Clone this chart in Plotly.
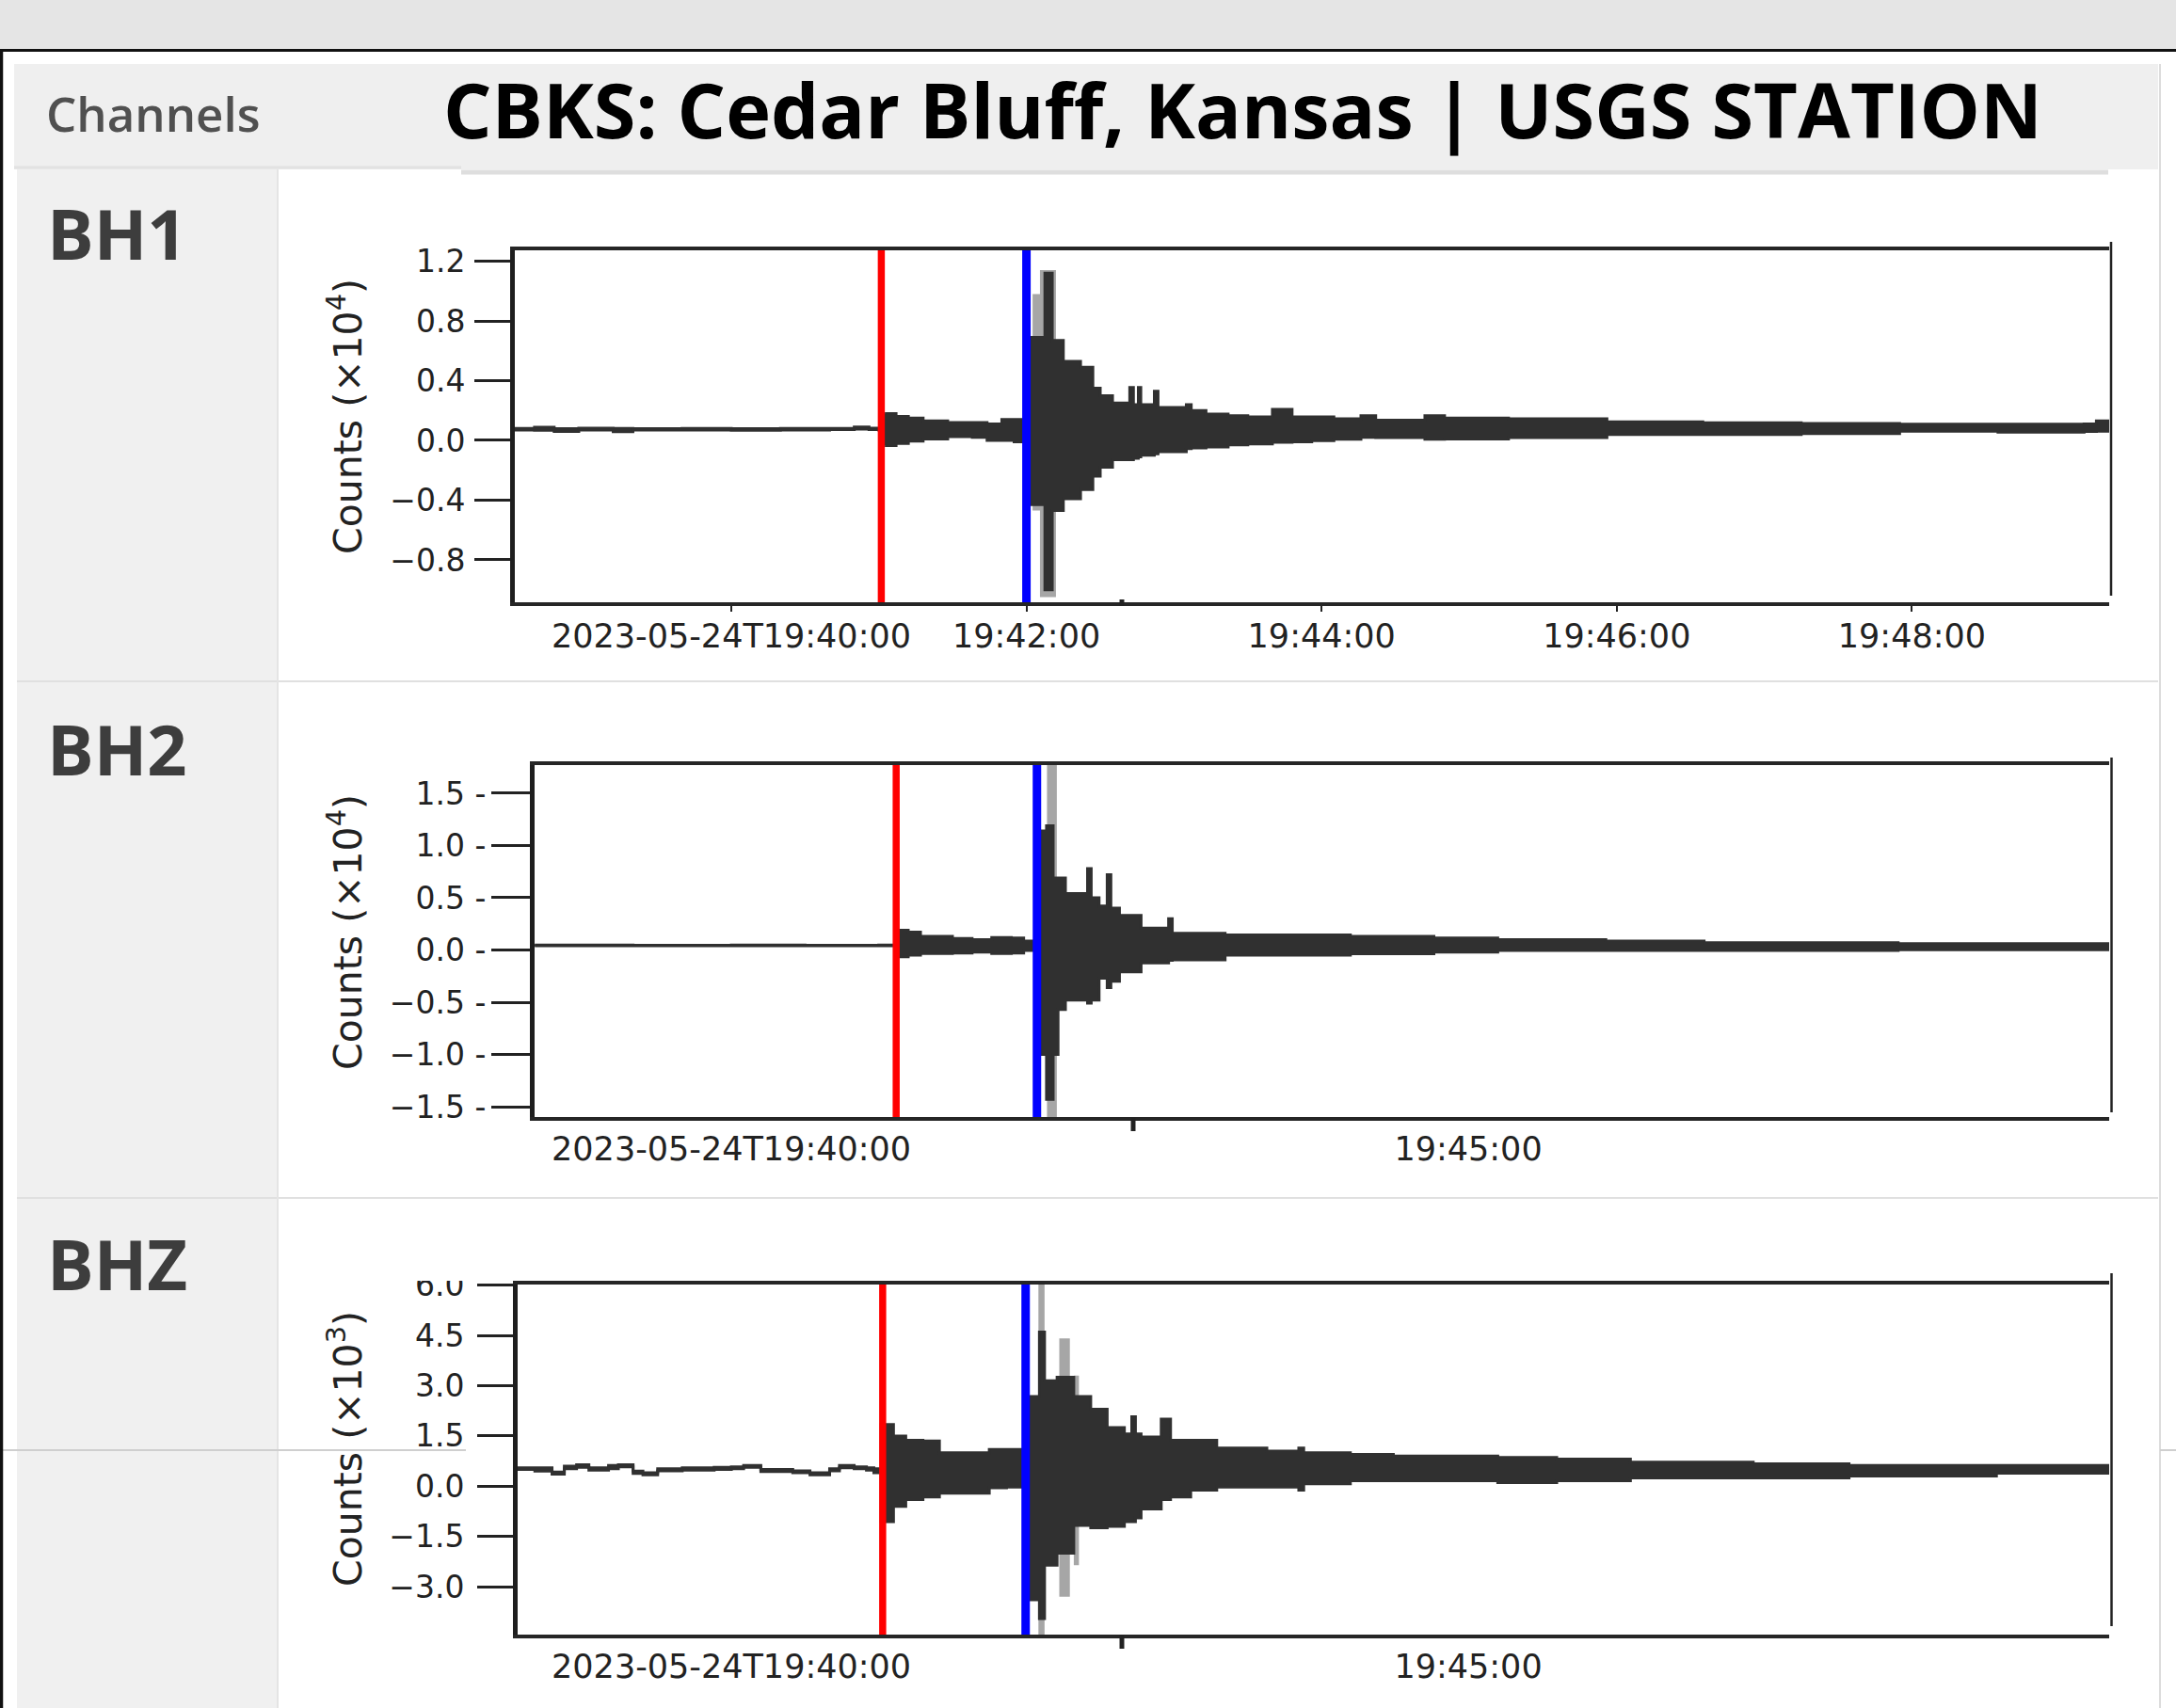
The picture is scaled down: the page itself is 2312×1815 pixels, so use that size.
import plotly.graph_objects as go
import pandas as pd

W, H = 2312, 1815
BASE = pd.Timestamp("2023-05-24 19:40:00")

# ---------------- data (seconds after 19:40:00, counts in axis units) -------------
CHANNELS = ["BH1", "BH2", "BHZ"]
UNITS = ["Counts (×10<sup>4</sup>)", "Counts (×10<sup>4</sup>)", "Counts (×10<sup>3</sup>)"]

# arrival markers (red = P, blue = S) per channel
RED_T = [61.0, 67.1, 61.6]
BLUE_T = [120.0, 124.4, 119.8]

# BH1 waveform envelope (x10^4 counts)
BH1_T = [-88, -80, -72, -62, -48, -40, -20, 0, 20, 40, 50, 56, 60, 61, 63, 67, 72, 78, 88, 98, 104, 110,
         115, 119, 120, 127.5, 130.5, 135, 142, 147, 150, 155, 162, 163.5, 165.5, 166.5, 172, 173.5, 185,
         187, 193, 202, 210, 220, 228, 236, 245, 256, 262, 282, 290, 316, 356, 395, 435, 475, 515, 550,
         555, 560.2]
BH1_UP = [0.080, 0.088, 0.078, 0.082, 0.080, 0.078, 0.080, 0.078, 0.080, 0.080, 0.090, 0.082, 0.078,
          0.170, 0.180, 0.160, 0.150, 0.130, 0.120, 0.120, 0.110, 0.140, 0.140, 0.140, 0.690, 1.120,
          0.670, 0.530, 0.490, 0.350, 0.300, 0.250, 0.355, 0.240, 0.355, 0.240, 0.330, 0.220, 0.240,
          0.200, 0.176, 0.165, 0.157, 0.208, 0.157, 0.157, 0.145, 0.165, 0.135, 0.166, 0.150, 0.145,
          0.124, 0.118, 0.113, 0.109, 0.109, 0.110, 0.130, 0.110]
BH1_LO = [0.070, 0.068, 0.060, 0.070, 0.058, 0.070, 0.070, 0.068, 0.070, 0.072, 0.076, 0.072, 0.070,
          -0.020, -0.035, -0.020, -0.005, 0.010, 0.025, 0.020, 0.000, 0.000, -0.010, -0.010, -0.430,
          -1.000, -0.470, -0.390, -0.330, -0.240, -0.180, -0.130, -0.130, -0.120, -0.110, -0.100,
          -0.090, -0.076, -0.055, -0.050, -0.044, -0.030, -0.023, -0.013, -0.010, -0.002, 0.008, 0.020,
          0.019, 0.008, 0.010, 0.019, 0.040, 0.040, 0.046, 0.061, 0.055, 0.060, 0.062, 0.062]
BH1_LIGHT_T = [122.5, 125.5, 132]
BH1_LIGHT_UP = [0.98, 1.14, 1.14]
BH1_LIGHT_LO = [-0.47, -1.05, -1.05]

# BH2 waveform envelope (x10^4 counts)
BH2_T = [-80, -40, 0, 30, 60, 66, 67, 72, 77, 90, 98, 106, 114, 119, 124.5, 128.3, 131, 133, 136, 145,
         146.5, 149.7, 153, 154.5, 158, 166.8, 178, 179.5, 201, 218, 252, 286, 312, 356, 396, 475, 560.9]
BH2_UP = [0.048, 0.046, 0.048, 0.046, 0.048, 0.046, 0.190, 0.170, 0.130, 0.110, 0.100, 0.120, 0.115,
          0.086, 1.140, 1.190, 0.690, 0.690, 0.540, 0.780, 0.500, 0.420, 0.720, 0.400, 0.330, 0.210,
          0.300, 0.160, 0.145, 0.145, 0.130, 0.115, 0.100, 0.086, 0.070, 0.060, 0.060]
BH2_LO = [0.040, 0.040, 0.040, 0.040, 0.040, 0.040, -0.065, -0.050, -0.034, -0.030, -0.020, -0.034,
          -0.030, -0.004, -1.000, -1.430, -1.000, -0.570, -0.480, -0.510, -0.480, -0.270, -0.360,
          -0.300, -0.210, -0.125, -0.100, -0.095, -0.050, -0.050, -0.035, -0.020, -0.005, -0.005,
          -0.005, 0.002, 0.002]
BH2_LIGHT_T = [128.5, 132.5]
BH2_LIGHT_UP = [1.77, 1.77]
BH2_LIGHT_LO = [-1.60, -1.60]

# BHZ waveform envelope (x10^3 counts)
BHZ_T = [-87, -80, -73, -68, -63, -58, -50, -46, -40, -36, -30, -20, -7, 0, 5, 12, 25, 32, 40, 44, 50,
         55, 58, 61, 66, 71, 78, 84.7, 98, 105, 112, 119, 120, 125.4, 127.5, 132.6, 139.4, 146.3, 153,
         160, 163, 164.5, 166.8, 175, 178.8, 187, 197.6, 218, 231, 233, 252, 269.5, 312, 336, 366, 416,
         455, 515, 560.9]
BHZ_UP = [0.55, 0.55, 0.42, 0.60, 0.64, 0.55, 0.62, 0.64, 0.45, 0.40, 0.52, 0.55, 0.56, 0.58, 0.62,
          0.50, 0.46, 0.40, 0.52, 0.62, 0.58, 0.55, 0.52, 1.84, 1.50, 1.37, 1.35, 1.00, 1.00, 1.10, 1.10,
          1.10, 2.68, 4.60, 3.15, 3.25, 2.68, 2.30, 1.75, 1.56, 2.07, 1.56, 1.47, 2.00, 1.37, 1.37, 1.14,
          1.05, 1.14, 1.00, 0.95, 0.90, 0.86, 0.81, 0.72, 0.67, 0.62, 0.62, 0.62]
BHZ_LO = [0.50, 0.45, 0.36, 0.52, 0.56, 0.48, 0.52, 0.58, 0.38, 0.34, 0.46, 0.48, 0.50, 0.52, 0.56,
          0.44, 0.40, 0.34, 0.46, 0.55, 0.52, 0.48, 0.40, -1.06, -0.60, -0.40, -0.32, -0.21, -0.21,
          -0.05, -0.03, -0.03, -3.39, -3.95, -2.36, -2.00, -1.17, -1.24, -1.20, -1.06, -1.06, -0.95,
          -0.68, -0.40, -0.32, -0.12, -0.03, -0.03, -0.12, 0.07, 0.16, 0.16, 0.11, 0.16, 0.25, 0.25,
          0.30, 0.39, 0.42]
BHZ_LIGHT_T = [125.0, 127.5, 133.5, 137.8, 139.4, 141.5]
BHZ_LIGHT_UP = [6.02, 0.0, 4.41, 0.0, 3.30, 0.0]
BHZ_LIGHT_LO = [-4.43, 0.0, -3.30, 0.0, -2.36, 0.0]

WAVE_T = [BH1_T, BH2_T, BHZ_T]
WAVE_UP = [BH1_UP, BH2_UP, BHZ_UP]
WAVE_LO = [BH1_LO, BH2_LO, BHZ_LO]
LIGHT_T = [BH1_LIGHT_T, BH2_LIGHT_T, BHZ_LIGHT_T]
LIGHT_UP = [BH1_LIGHT_UP, BH2_LIGHT_UP, BHZ_LIGHT_UP]
LIGHT_LO = [BH1_LIGHT_LO, BH2_LIGHT_LO, BHZ_LIGHT_LO]

# tick labels
Y_TICKVALS = [[1.2, 0.8, 0.4, 0.0, -0.4, -0.8],
              [1.5, 1.0, 0.5, 0.0, -0.5, -1.0, -1.5],
              [6.0, 4.5, 3.0, 1.5, 0.0, -1.5, -3.0]]
Y_TICKTEXT = [["1.2", "0.8", "0.4", "0.0", "−0.4", "−0.8"],
              ["1.5 -", "1.0 -", "0.5 -", "0.0 -", "−0.5 -", "−1.0 -", "−1.5 -"],
              ["6.0", "4.5", "3.0", "1.5", "0.0", "−1.5", "−3.0"]]
X_TICKSEC = [[0, 120, 240, 360, 480], [0, 300], [0, 300]]
X_TICKTEXT = [["2023-05-24T19:40:00", "19:42:00", "19:44:00", "19:46:00", "19:48:00"],
              ["2023-05-24T19:40:00", "19:45:00"],
              ["2023-05-24T19:40:00", "19:45:00"]]

# ---------------- layout geometry (pixels) ----------------
X_DOM = [(547, 2241), (568, 2241), (550, 2241)]
Y_DOM = [(266, 640), (813, 1187), (1365, 1737)]
Y_RANGE = [(-1.084, 1.273), (-1.599, 1.770), (-4.43, 6.02)]
X_RANGE_SEC = [(-88.0, 560.2), (-80.1, 560.9), (-87.0, 560.9)]
Y_TICKLEN = [38, 41, 38]
Y_STANDOFF = [3, -1, 7]
X_TICKLEN = [6, 0, 0]
X_STANDOFF = [-4, 0, 0]
LABEL_Y = [247, 795, 1342]
UNIT_Y = [443, 991, 1540]


def px(x):
    return x / W


def py(y):
    return 1 - y / H


def tstamp(sec_list):
    return [(BASE + pd.Timedelta(seconds=float(s))).to_pydatetime() for s in sec_list]


fig = go.Figure()
DARK = "#303030"

for i in range(3):
    xa = "x" if i == 0 else f"x{i + 1}"
    ya = "y" if i == 0 else f"y{i + 1}"
    # light gray smear columns
    fig.add_trace(go.Scatter(x=tstamp(LIGHT_T[i]), y=LIGHT_UP[i], xaxis=xa, yaxis=ya, mode="lines",
                             line=dict(width=0, color="#a0a0a0", shape="hv"), hoverinfo="skip"))
    fig.add_trace(go.Scatter(x=tstamp(LIGHT_T[i]), y=LIGHT_LO[i], xaxis=xa, yaxis=ya, mode="lines",
                             line=dict(width=0, color="#a0a0a0", shape="hv"), fill="tonexty",
                             fillcolor="#a6a6a6", hoverinfo="skip"))
    # waveform envelope
    fig.add_trace(go.Scatter(x=tstamp(WAVE_T[i]), y=WAVE_UP[i], xaxis=xa, yaxis=ya, mode="lines",
                             line=dict(width=3, color=DARK, shape="hv"), hoverinfo="skip"))
    fig.add_trace(go.Scatter(x=tstamp(WAVE_T[i]), y=WAVE_LO[i], xaxis=xa, yaxis=ya, mode="lines",
                             line=dict(width=3, color=DARK, shape="hv"), fill="tonexty",
                             fillcolor=DARK, hoverinfo="skip"))
    # arrival markers
    y0, y1 = Y_RANGE[i]
    fig.add_trace(go.Scatter(x=tstamp([RED_T[i], RED_T[i]]), y=[y0, y1], xaxis=xa, yaxis=ya,
                             mode="lines", line=dict(width=7.5, color="#ff0000"), hoverinfo="skip"))
    fig.add_trace(go.Scatter(x=tstamp([BLUE_T[i], BLUE_T[i]]), y=[y0, y1], xaxis=xa, yaxis=ya,
                             mode="lines", line=dict(width=9, color="#0000ff"), hoverinfo="skip"))

layout = dict(
    width=W, height=H, autosize=False, margin=dict(l=0, r=0, t=0, b=0, pad=0),
    paper_bgcolor="white", plot_bgcolor="white", showlegend=False,
    font=dict(family="DejaVu Sans", color="#222222"),
)

for i in range(3):
    xk = "xaxis" if i == 0 else f"xaxis{i + 1}"
    yk = "yaxis" if i == 0 else f"yaxis{i + 1}"
    ya = "y" if i == 0 else f"y{i + 1}"
    xa = "x" if i == 0 else f"x{i + 1}"
    s0, s1 = X_RANGE_SEC[i]
    layout[xk] = dict(
        type="date", domain=[px(X_DOM[i][0]), px(X_DOM[i][1])], anchor=ya, automargin=False,
        range=tstamp([s0, s1]), tickvals=tstamp(X_TICKSEC[i]), ticktext=X_TICKTEXT[i],
        tickangle=0, tickfont=dict(family="DejaVu Sans", size=35, color="#222222"),
        ticks="outside" if X_TICKLEN[i] > 0 else "", ticklen=X_TICKLEN[i], tickwidth=2,
        tickcolor="#222222", showline=True, linecolor="#262626", linewidth=4, mirror=True,
        showgrid=False, zeroline=False, ticklabelstandoff=X_STANDOFF[i], fixedrange=True,
    )
    layout[yk] = dict(
        domain=[py(Y_DOM[i][1]), py(Y_DOM[i][0])], anchor=xa, range=list(Y_RANGE[i]), automargin=False,
        tickvals=Y_TICKVALS[i], ticktext=Y_TICKTEXT[i],
        tickfont=dict(family="DejaVu Sans", size=33, color="#222222"),
        ticks="outside", ticklen=Y_TICKLEN[i], tickwidth=3, tickcolor="#222222",
        showline=True, linecolor="#1e1e1e", linewidth=5, mirror=False,
        showgrid=False, zeroline=False, ticklabelstandoff=Y_STANDOFF[i], fixedrange=True,
    )

shapes = []


def rect(x0, y0, x1, y1, color, layer="below"):
    shapes.append(dict(type="rect", xref="paper", yref="paper", x0=px(x0), x1=px(x1), y0=py(y1), y1=py(y0),
                       line=dict(width=0), fillcolor=color, layer=layer))


def hline(x0, x1, y, color, w, layer="below"):
    shapes.append(dict(type="line", xref="paper", yref="paper", x0=px(x0), x1=px(x1), y0=py(y), y1=py(y),
                       line=dict(color=color, width=w), layer=layer))


def vline(x, y0, y1, color, w, layer="below"):
    shapes.append(dict(type="line", xref="paper", yref="paper", x0=px(x), x1=px(x), y0=py(y0), y1=py(y1),
                       line=dict(color=color, width=w), layer=layer))


rect(0, 0, W, 52, "#e5e5e5")
rect(15, 68, 2293, 180, "#efefef")
rect(18, 180, 295, H, "#f0f0f0")
hline(15, 490, 178, "#e2e2e2", 3)
hline(490, 2240, 183, "#dedede", 5)
hline(18, 2293, 724, "#e0e0e0", 2)
hline(18, 2293, 1273, "#e0e0e0", 2)
vline(295, 180, H, "#e4e4e4", 2)
vline(2295, 68, H, "#dcdcdc", 2)
hline(0, 495, 1541, "#cfcfcf", 2)
hline(2295, W, 1541, "#cfcfcf", 2)
hline(0, W, 53.5, "#111111", 3, "above")
vline(1.5, 53, H, "#111111", 3.5, "above")
# right-hand spines (drawn slightly taller than the frame)
vline(2243, 257, 633, "#222222", 2.5, "above")
vline(2243.5, 805, 1182, "#222222", 2.5, "above")
vline(2243.5, 1353, 1728, "#222222", 2.5, "above")
# stray tick marks
vline(1192, 637, 644, "#222222", 5, "above")
vline(1204, 1188, 1202, "#222222", 5, "above")
vline(1192, 1737, 1752, "#222222", 5, "above")
# the top of the BHZ "6.0" label is cropped in the original screenshot
rect(420, 1338, 508, 1361, "#ffffff", "above")

annotations = []
annotations.append(dict(text="CBKS: Cedar Bluff, Kansas | USGS STATION", x=px(1320), y=py(116), xref="paper",
                        yref="paper", xanchor="center", yanchor="middle", showarrow=False,
                        font=dict(family="Open Sans", size=81, color="#000000", weight="bold")))
annotations.append(dict(text="Channels", x=px(47), y=py(120), xref="paper", yref="paper", xanchor="left",
                        yanchor="middle", showarrow=False,
                        font=dict(family="Open Sans", size=51, color="#505050", weight=600)))
for i in range(3):
    annotations.append(dict(text=CHANNELS[i], x=px(48), y=py(LABEL_Y[i]), xref="paper", yref="paper",
                            xanchor="left", yanchor="middle", showarrow=False,
                            font=dict(family="Open Sans", size=74, color="#3d3d3d", weight="bold")))
    annotations.append(dict(text=UNITS[i], x=px(367), y=py(UNIT_Y[i]), xref="paper", yref="paper",
                            xanchor="center", yanchor="middle", textangle=-90, showarrow=False,
                            font=dict(family="DejaVu Sans", size=41, color="#222222")))

layout["shapes"] = shapes
layout["annotations"] = annotations
fig.update_layout(**layout)

fig.write_html("out.html", config={"displayModeBar": False},
               post_script="document.body.style.margin='0';document.body.style.overflow='hidden';")
